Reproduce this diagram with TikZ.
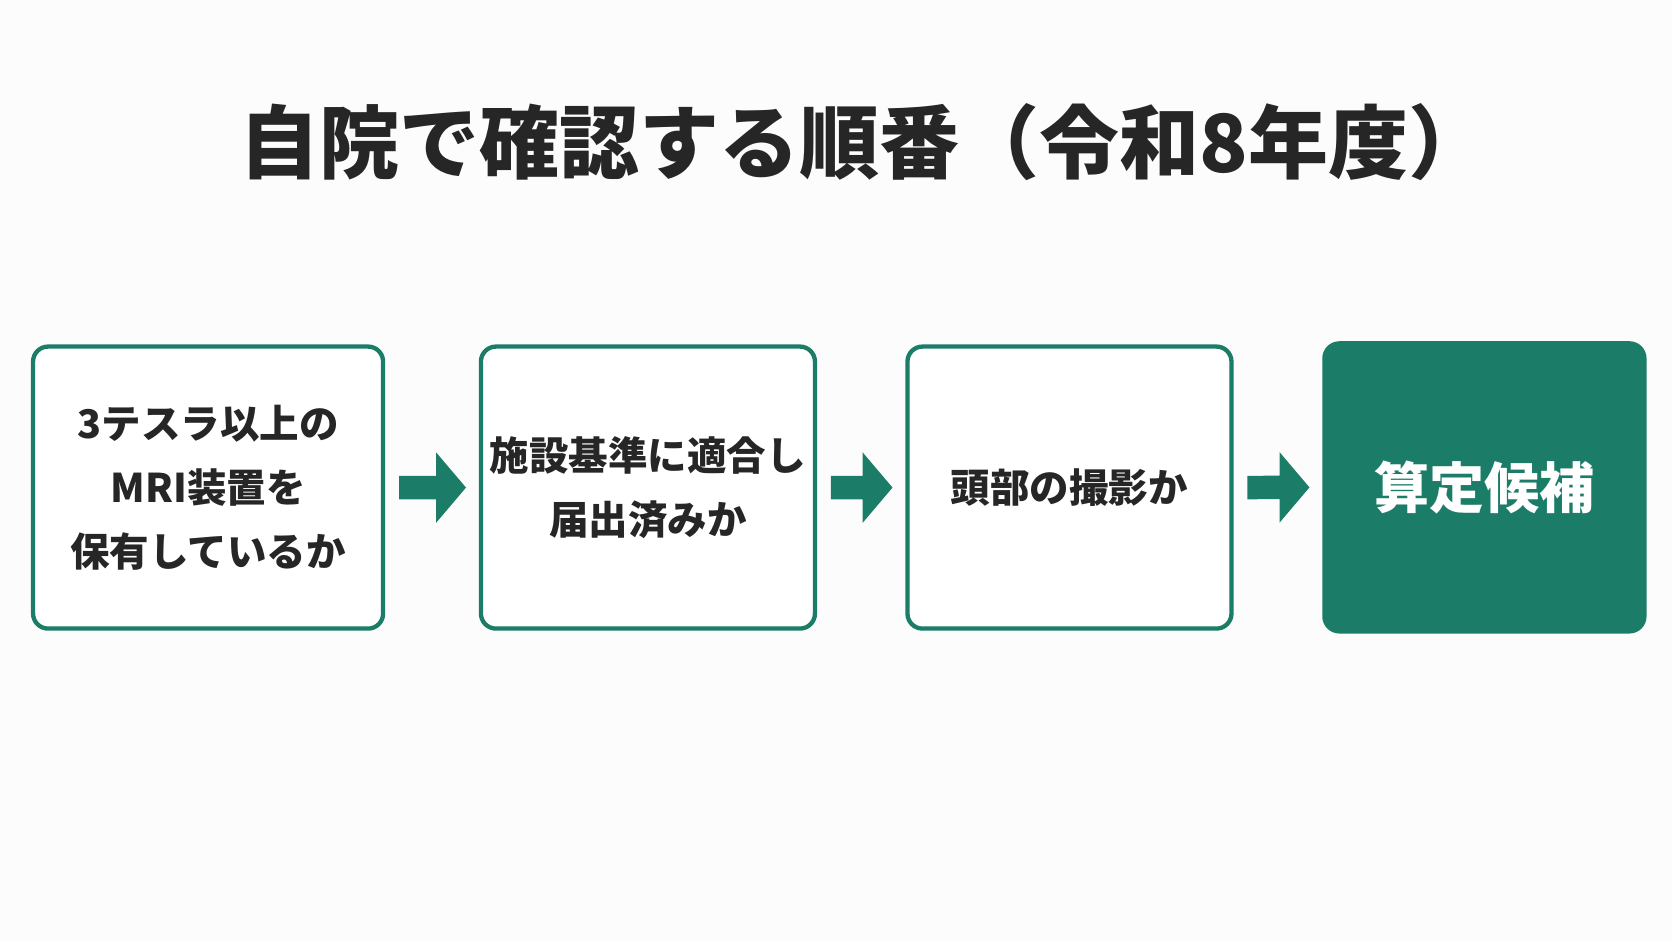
\documentclass[tikz,border=0pt]{standalone}
\usepackage{fontspec}
\usetikzlibrary{calc}
\newfontfamily\cjk{Noto Sans CJK JP}
\definecolor{tg}{HTML}{1B7D68}
\begin{document}
\begin{tikzpicture}[x=1.0663pt,y=-1.0663pt,
 box/.style={draw=tg,line width=4.3pt,rounded corners=15pt,fill=white,anchor=north west,align=center,font=\cjk\bfseries\fontsize{39.5}{64}\selectfont,text=black!85},
 arr/.style={fill=tg,draw=none}]
\useasboundingbox (0,0) rectangle (1568,882.5);
\fill[white!99!black] (0,0) rectangle (1568,882.5);
\node[font=\cjk\bfseries\fontsize{80}{84}\selectfont,text=black!85] (title) at (810,133) {自院で確認する順番（令和8年度）};
\node[box,minimum width=350pt,minimum height=282pt] (b1) at (29,323) {3テスラ以上の\\MRI装置を\\保有しているか};
\node[box,minimum width=334pt,minimum height=282pt] (b2) at (449,323) {施設基準に適合し\\届出済みか};
\node[box,minimum width=324pt,minimum height=282pt] (b3) at (849,323) {頭部の撮影か};
\node[box,fill=tg,draw=tg,text=white,minimum width=320pt,minimum height=288pt,font=\cjk\bfseries\fontsize{55}{60}\selectfont] (b4) at (1240,320) {算定候補};
\foreach \a/\b in {b1/b2,b2/b3,b3/b4}{
 \path (\a.east) ++(13,0) coordinate (s) (\b.west) ++(-12,0) coordinate (e);
 \fill[arr] ($(s)+(0,-11)$) -- ($(e)+(-28,-11)$) -- ($(e)+(-28,-33)$) -- (e) -- ($(e)+(-28,33)$) -- ($(e)+(-28,11)$) -- ($(s)+(0,11)$) -- cycle;
}
\end{tikzpicture}
\end{document}
